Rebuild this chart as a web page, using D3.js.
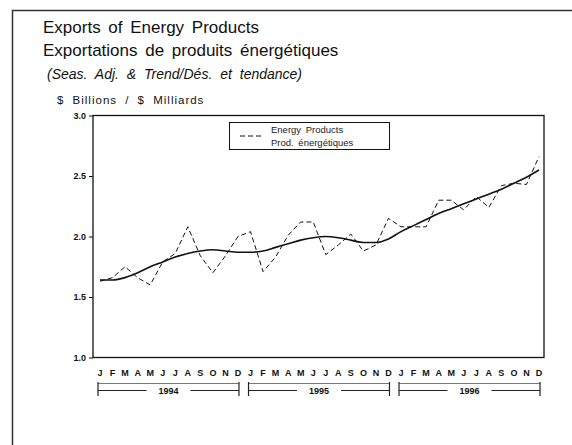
<!DOCTYPE html>
<html>
<head>
<meta charset="utf-8">
<script src="https://cdn.jsdelivr.net/npm/d3@7"></script>
<style>
  body { margin: 0; background: #fff; }
  svg { display: block; font-family: "Liberation Sans", Arial, sans-serif; }
</style>
</head>
<body>
<svg id="chart" width="572" height="445"></svg>
<script>
var months = ['J','F','M','A','M','J','J','A','S','O','N','D'];
var years = ['1994','1995','1996'];
var yTicks = [1.0, 1.5, 2.0, 2.5, 3.0];
var energy = [1.63, 1.66, 1.75, 1.66, 1.60, 1.79, 1.86, 2.08, 1.84, 1.70, 1.84, 2.00,
              2.04, 1.71, 1.83, 2.01, 2.12, 2.12, 1.85, 1.93, 2.02, 1.88, 1.93, 2.15,
              2.08, 2.08, 2.08, 2.30, 2.30, 2.22, 2.33, 2.24, 2.42, 2.44, 2.43, 2.66];
var trend = [1.64, 1.64, 1.66, 1.70, 1.75, 1.79, 1.83, 1.86, 1.88, 1.89, 1.88, 1.87,
             1.87, 1.88, 1.91, 1.94, 1.97, 1.99, 2.00, 1.99, 1.97, 1.95, 1.95, 1.98,
             2.04, 2.09, 2.14, 2.19, 2.23, 2.27, 2.31, 2.35, 2.39, 2.44, 2.49, 2.55];
var legendLines = ['Energy Products', 'Prod. énergétiques'];

function draw_chart(svg_id) {
    var svg = d3.select('#' + svg_id);
    var left = 93, right = 544, top = 115.5, bottom = 357.5;
    var n = energy.length;
    var xs = d3.scaleLinear().domain([0, n - 1]).range([100, 539]);
    var ys = d3.scaleLinear().domain([1, 3]).range([bottom, top]);

    // outer border (open at right and bottom)
    svg.append('path')
        .attr('d', 'M12.5,445V10.5H572')
        .attr('fill', 'none')
        .attr('stroke', '#333')
        .attr('stroke-width', 1.5);

    // titles
    var titles = [
        {t: 'Exports of Energy Products', x: 43, y: 33, size: 17, style: 'normal', ws: 3, ls: 0},
        {t: 'Exportations de produits énergétiques', x: 43, y: 56, size: 17, style: 'normal', ws: 3, ls: 0},
        {t: '(Seas. Adj. & Trend/Dés. et tendance)', x: 47, y: 79, size: 14, style: 'italic', ws: 4, ls: 0},
        {t: '$ Billions / $ Milliards', x: 57, y: 104, size: 11.5, style: 'normal', ws: 4, ls: 1}
    ];
    svg.selectAll('text.title').data(titles).enter().append('text')
        .attr('class', 'title')
        .attr('x', function (d) { return d.x; })
        .attr('y', function (d) { return d.y; })
        .attr('font-size', function (d) { return d.size; })
        .attr('font-style', function (d) { return d.style; })
        .attr('word-spacing', function (d) { return d.ws; })
        .attr('letter-spacing', function (d) { return d.ls; })
        .attr('fill', '#111')
        .text(function (d) { return d.t; });

    // plot frame
    svg.append('rect')
        .attr('x', left).attr('y', top)
        .attr('width', right - left).attr('height', bottom - top)
        .attr('fill', 'none')
        .attr('stroke', '#111')
        .attr('stroke-width', 1.3);

    // y axis
    var yAxis = d3.axisLeft(ys).tickValues(yTicks).tickFormat(d3.format('.1f')).tickSize(4).tickPadding(3);
    var ga = svg.append('g').attr('transform', 'translate(' + left + ',0)').call(yAxis);
    ga.select('.domain').remove();
    ga.selectAll('text').attr('font-size', 9).attr('font-weight', 'bold').attr('fill', '#111')
        .attr('font-family', '"Liberation Sans", Arial, sans-serif');
    ga.selectAll('line').attr('stroke', '#111');

    // month labels
    var monthData = d3.range(n);
    svg.selectAll('text.month').data(monthData).enter().append('text')
        .attr('class', 'month')
        .attr('x', function (d) { return xs(d); })
        .attr('y', 375.5)
        .attr('text-anchor', 'middle')
        .attr('font-size', 9)
        .attr('font-weight', 'bold')
        .attr('fill', '#111')
        .text(function (d) { return months[d % 12]; });

    // year brackets
    var yb = svg.selectAll('g.year').data(years).enter().append('g').attr('class', 'year');
    yb.each(function (d, i) {
        var g = d3.select(this);
        var x0 = xs(i * 12) - 2, x1 = xs(i * 12 + 11) + 1;
        var xm = (x0 + x1) / 2;
        g.append('line').attr('x1', x0).attr('x2', x1).attr('y1', 383.5).attr('y2', 383.5)
            .attr('stroke', '#555').attr('stroke-width', 0.8);
        g.append('line').attr('x1', x0).attr('x2', xm - 22).attr('y1', 390.5).attr('y2', 390.5)
            .attr('stroke', '#222').attr('stroke-width', 1);
        g.append('line').attr('x1', xm + 22).attr('x2', x1).attr('y1', 390.5).attr('y2', 390.5)
            .attr('stroke', '#222').attr('stroke-width', 1);
        [x0, x1].forEach(function (xx) {
            g.append('line').attr('x1', xx).attr('x2', xx).attr('y1', 382).attr('y2', 396)
                .attr('stroke', '#222').attr('stroke-width', 1.2);
        });
        g.append('text').attr('x', xm).attr('y', 394)
            .attr('text-anchor', 'middle').attr('font-size', 9).attr('font-weight', 'bold')
            .attr('fill', '#111')
            .text(d);
    });

    // series
    var line = d3.line().x(function (d, i) { return xs(i); }).y(function (d) { return ys(d); });
    var smooth = d3.line().x(function (d, i) { return xs(i); }).y(function (d) { return ys(d); })
        .curve(d3.curveMonotoneX);

    svg.append('path').datum(energy)
        .attr('d', line)
        .attr('fill', 'none')
        .attr('stroke', '#111')
        .attr('stroke-width', 1)
        .attr('stroke-dasharray', '5,3');

    svg.append('path').datum(trend)
        .attr('d', smooth)
        .attr('fill', 'none')
        .attr('stroke', '#111')
        .attr('stroke-width', 1.6);

    // legend
    var lg = svg.append('g').attr('transform', 'translate(229,122)');
    lg.append('rect').attr('x', 0.5).attr('y', 0.5).attr('width', 160).attr('height', 27)
        .attr('fill', '#fff').attr('stroke', '#111').attr('stroke-width', 1);
    lg.append('line').attr('x1', 11).attr('x2', 33).attr('y1', 14).attr('y2', 14)
        .attr('stroke', '#111').attr('stroke-dasharray', '5,3');
    lg.selectAll('text').data(legendLines).enter().append('text')
        .attr('x', 42)
        .attr('y', function (d, i) { return 10.5 + i * 13.5; })
        .attr('font-size', 9.5)
        .attr('fill', '#222')
        .attr('word-spacing', 2)
        .text(function (d) { return d; });
}

draw_chart('chart');
</script>
</body>
</html>
